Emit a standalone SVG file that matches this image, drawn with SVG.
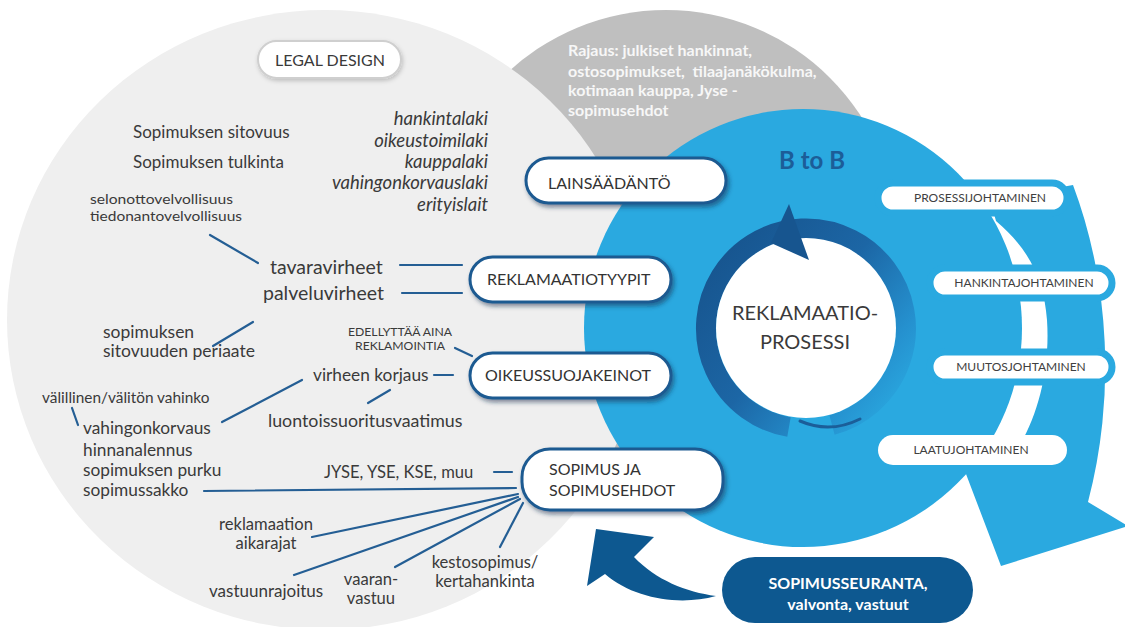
<svg xmlns="http://www.w3.org/2000/svg" width="1125" height="627" viewBox="0 0 1125 627">
  <defs>
    <style>
      .txt { font-family: Lato, "Liberation Sans", sans-serif; fill: #3a3a3a; }
      .it { font-style: italic; }
      .cap { font-family: Lato, "Liberation Sans", sans-serif; fill: #333333; font-size: 16px; }
      .rcap { font-family: Lato, "Liberation Sans", sans-serif; fill: #404040; font-size: 12px; text-anchor: middle; }
      .lpill { fill: #ffffff; stroke: #1d5a91; stroke-width: 3; filter: url(#shadow); }
      .rpill { fill: #ffffff; stroke: #2aa9e0; stroke-width: 7; }
      .conn line { stroke: #245e94; stroke-width: 2.2; stroke-linecap: round; }
    </style>
    <filter id="shadow" x="-10%" y="-20%" width="125%" height="160%">
      <feDropShadow dx="2" dy="3" stdDeviation="2" flood-color="#0b2c4a" flood-opacity="0.5"/>
    </filter>
    <filter id="softShadow" x="-10%" y="-20%" width="125%" height="160%">
      <feDropShadow dx="1" dy="2" stdDeviation="2" flood-color="#000" flood-opacity="0.2"/>
    </filter>
    <linearGradient id="ringGrad" gradientUnits="userSpaceOnUse" x1="715" y1="255" x2="900" y2="410">
      <stop offset="0" stop-color="#17558f"/>
      <stop offset="0.45" stop-color="#1c66a5"/>
      <stop offset="0.8" stop-color="#2591cf"/>
      <stop offset="1" stop-color="#2aa9e0"/>
    </linearGradient>
  </defs>

  <rect width="1125" height="627" fill="#ffffff"/>

  <!-- background discs -->
  <g id="scope-disc">
    <circle cx="666" cy="242" r="232" fill="#bfbfbf"/>
  </g>
  <g id="legal-disc">
    <ellipse cx="325" cy="320" rx="318" ry="310" fill="#efefef"/>
  </g>
  <g id="scope-text" font-family="Lato, 'Liberation Sans', sans-serif" font-weight="bold" font-size="16" fill="#f7f7f7">
    <text x="568" y="56">Rajaus: julkiset hankinnat,</text>
    <text x="568" y="77">ostosopimukset,&#160; tilaajanäkökulma,</text>
    <text x="568" y="96">kotimaan kauppa, Jyse -</text>
    <text x="568" y="116">sopimusehdot</text>
  </g>

  <!-- B to B disc with the outer circular arrow -->
  <g id="btob">
    <circle cx="803" cy="328" r="219" fill="#2aa9e0"/>
    <path d="M 990 200 L 1073 185 A 302 405 0 0 1 1088 502 L 1128 526 L 1001 566 L 966 474 L 950 450 L 1020 445 C 1040 410, 1050 365, 1047 320 C 1044 280, 1030 250, 996 221 Z" fill="#2aa9e0"/>
    <text x="812" y="169" text-anchor="middle" font-family="Lato, 'Liberation Sans', sans-serif" font-weight="bold" font-size="24" fill="#1c5d98">B to B</text>
  </g>

  <!-- central process cycle -->
  <g id="process">
    <path d="M 789 427 A 100 100 0 1 1 832 425" fill="none" stroke="url(#ringGrad)" stroke-width="20"/>
    <circle cx="806" cy="328" r="90" fill="#ffffff"/>
    <polygon points="789,204 809,260 771,243" fill="#17558f"/>
    <path d="M 800 421 Q 830 434 860 419" fill="none" stroke="#1b5e99" stroke-width="3" stroke-linecap="round"/>
    <text class="txt" x="805" y="320" text-anchor="middle" font-size="20" fill="#3d3d3d">REKLAMAATIO-</text>
    <text class="txt" x="805" y="349" text-anchor="middle" font-size="20" fill="#3d3d3d">PROSESSI</text>
  </g>

  <!-- management pills -->
  <g id="prosessijohtaminen">
    <rect class="rpill" x="878" y="183" width="189" height="30" rx="15"/>
    <text class="rcap" x="980" y="202">PROSESSIJOHTAMINEN</text>
  </g>
  <g id="hankintajohtaminen">
    <rect class="rpill" x="930" y="268" width="182" height="30" rx="15"/>
    <text class="rcap" x="1024" y="287">HANKINTAJOHTAMINEN</text>
  </g>
  <g id="muutosjohtaminen">
    <rect class="rpill" x="930" y="352" width="182" height="30" rx="15"/>
    <text class="rcap" x="1021" y="371">MUUTOSJOHTAMINEN</text>
  </g>
  <g id="laatujohtaminen">
    <rect x="878" y="435" width="189" height="30" rx="15" fill="#ffffff"/>
    <text class="rcap" x="971" y="454">LAATUJOHTAMINEN</text>
  </g>

  <!-- legal design pill -->
  <g id="legal-design">
    <rect x="258" y="41" width="143" height="37" rx="18.5" fill="#ffffff" stroke="#cfcfcf" stroke-width="2" filter="url(#softShadow)"/>
    <text class="txt" x="330" y="66" text-anchor="middle" font-size="16">LEGAL DESIGN</text>
  </g>

  <!-- connectors -->
  <g id="connectors" class="conn">
    <line x1="210" y1="235" x2="258" y2="263"/>
    <line x1="400" y1="265" x2="462" y2="265"/>
    <line x1="402" y1="293" x2="462" y2="293"/>
    <line x1="213" y1="346" x2="253" y2="322"/>
    <line x1="455" y1="348" x2="472" y2="356"/>
    <line x1="434" y1="375" x2="453" y2="375"/>
    <line x1="222" y1="422" x2="302" y2="380"/>
    <line x1="72" y1="408" x2="78" y2="425"/>
    <line x1="368" y1="403" x2="390" y2="390"/>
    <line x1="204" y1="491" x2="516" y2="488"/>
    <line x1="494" y1="472" x2="512" y2="472"/>
    <line x1="312" y1="537" x2="518" y2="494"/>
    <line x1="294" y1="575" x2="518" y2="497"/>
    <line x1="395" y1="567" x2="520" y2="499"/>
    <line x1="500" y1="547" x2="523" y2="503"/>
  </g>

  <!-- law pills -->
  <g id="lainsaadanto">
    <rect class="lpill" x="526" y="158" width="200" height="45" rx="22.5"/>
    <text class="cap" x="548" y="189">LAINSÄÄDÄNTÖ</text>
  </g>
  <g id="reklamaatiotyypit">
    <rect class="lpill" x="470" y="257" width="201" height="45" rx="22.5"/>
    <text class="cap" x="487" y="285">REKLAMAATIOTYYPIT</text>
  </g>
  <g id="oikeussuojakeinot">
    <rect class="lpill" x="470" y="353" width="201" height="45" rx="22.5"/>
    <text class="cap" x="485" y="381">OIKEUSSUOJAKEINOT</text>
  </g>
  <g id="sopimus">
    <rect class="lpill" x="522" y="449" width="201" height="61" rx="28"/>
    <text class="cap" x="549" y="475">SOPIMUS JA</text>
    <text class="cap" x="549" y="496">SOPIMUSEHDOT</text>
  </g>

  <!-- legal design content -->
  <g id="legal-texts" class="txt">
    <text x="133" y="138" font-size="17">Sopimuksen sitovuus</text>
    <text x="133" y="168" font-size="17">Sopimuksen tulkinta</text>
    <g class="it" font-size="18.5" text-anchor="end">
      <text x="488" y="125">hankintalaki</text>
      <text x="488" y="147">oikeustoimilaki</text>
      <text x="488" y="168">kauppalaki</text>
      <text x="488" y="189">vahingonkorvauslaki</text>
      <text x="488" y="211">erityislait</text>
    </g>
    <text x="90" y="204" font-size="13.5" textLength="143" lengthAdjust="spacingAndGlyphs">selonottovelvollisuus</text>
    <text x="90" y="221" font-size="13.5" textLength="152" lengthAdjust="spacingAndGlyphs">tiedonantovelvollisuus</text>
    <text x="270" y="274" font-size="19.5">tavaravirheet</text>
    <text x="263" y="300" font-size="19.5">palveluvirheet</text>
    <text x="103" y="338" font-size="17.5">sopimuksen</text>
    <text x="103" y="357" font-size="17.5">sitovuuden periaate</text>
    <text x="400" y="336" font-size="11" text-anchor="middle" textLength="104" lengthAdjust="spacingAndGlyphs">EDELLYTTÄÄ AINA</text>
    <text x="400" y="350" font-size="11" text-anchor="middle" textLength="90" lengthAdjust="spacingAndGlyphs">REKLAMOINTIA</text>
    <text x="313" y="381" font-size="17.3">virheen korjaus</text>
    <text x="42" y="403" font-size="15.4">välillinen/välitön vahinko</text>
    <text x="268" y="427" font-size="17.8">luontoissuoritusvaatimus</text>
    <text x="83" y="434" font-size="17.3">vahingonkorvaus</text>
    <text x="83" y="456" font-size="17.3">hinnanalennus</text>
    <text x="83" y="476" font-size="17.3">sopimuksen purku</text>
    <text x="83" y="496" font-size="17.3">sopimussakko</text>
    <text x="324" y="478" font-size="16.6">JYSE, YSE, KSE, muu</text>
    <text x="266" y="530" font-size="16.6" text-anchor="middle">reklamaation</text>
    <text x="266" y="549" font-size="16.6" text-anchor="middle">aikarajat</text>
    <text x="209" y="597" font-size="17">vastuunrajoitus</text>
    <text x="371" y="585" font-size="16.6" text-anchor="middle">vaaran-</text>
    <text x="371" y="604" font-size="16.6" text-anchor="middle">vastuu</text>
    <text x="485" y="568" font-size="16.6" text-anchor="middle">kestosopimus/</text>
    <text x="485" y="587" font-size="16.6" text-anchor="middle">kertahankinta</text>
  </g>

  <!-- contract monitoring feeding back into the contract -->
  <g id="seuranta">
    <path d="M 596 529 L 654 537 L 634 557 C 656 580, 686 592, 716 596 C 680 606, 634 599, 605 574 L 587 586 Z" fill="#0d5890"/>
    <rect x="722" y="557" width="251" height="66" rx="33" fill="#0d5890"/>
    <text x="848" y="589" text-anchor="middle" font-family="Lato, 'Liberation Sans', sans-serif" font-weight="bold" font-size="16" fill="#ffffff">SOPIMUSSEURANTA,</text>
    <text x="848" y="610" text-anchor="middle" font-family="Lato, 'Liberation Sans', sans-serif" font-weight="bold" font-size="16" fill="#ffffff">valvonta, vastuut</text>
  </g>
</svg>
